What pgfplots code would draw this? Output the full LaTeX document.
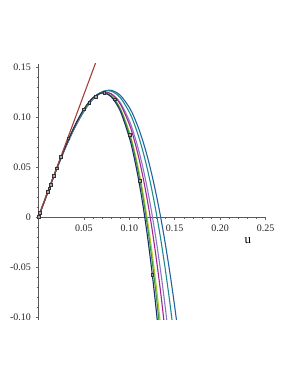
\documentclass[border=0pt]{standalone}
\usepackage{pgfplots}
\pgfplotsset{compat=1.18}
\usepackage{fontspec}
\setmainfont{Liberation Serif}
\definecolor{cred}{HTML}{A3403A}
\definecolor{cnavy}{HTML}{1B2D6E}
\definecolor{cgreen}{HTML}{3A9A3A}
\definecolor{cyellow}{HTML}{B5C92A}
\definecolor{cmag}{HTML}{A3268E}
\definecolor{clav}{HTML}{8A78C8}
\definecolor{cteal}{HTML}{1F8A8A}
\definecolor{cblue}{HTML}{2262A0}
\begin{document}
\begin{tikzpicture}[x=1pt,y=1pt]
\useasboundingbox (0,0) rectangle (298,385);
\begin{axis}[
  at={(38.5pt,65pt)}, anchor=south west,
  scale only axis, width=227pt, height=256pt,
  xmin=0, xmax=0.25, ymin=-0.103, ymax=0.153,
  axis lines=middle, axis line style={-, black!65, line width=0.6pt},
  xtick={0.05,0.1,0.15,0.2,0.25},
  xticklabels={0.05,0.10,0.15,0.20,0.25},
  ytick={-0.1,-0.05,0,0.05,0.1,0.15},
  yticklabels={-0.10,-0.05,0,0.05,0.10,0.15},
  hide obscured y ticks=false,
  minor x tick num=4, minor y tick num=4,
  tick align=outside,
  major tick length=3pt, minor tick length=2pt,
  tick style={black!60, line width=0.5pt},
  tick label style={font=\fontsize{10}{12}\selectfont, text=black!85},
  xticklabel style={yshift=-1pt},
  yticklabel style={xshift=-1pt},
  clip=true,
  every axis plot/.append style={line width=1.1pt, smooth},
]
% curves
\addplot[cblue, no marks] coordinates {(0,0) (0.01,0.02436) (0.02,0.04792) (0.03,0.06984) (0.04,0.08933) (0.05,0.10557) (0.06,0.11775) (0.07,0.12504) (0.08,0.12666) (0.09,0.12176) (0.10,0.10956) (0.105,0.10046) (0.11,0.08923) (0.115,0.07576) (0.12,0.05998) (0.125,0.04174) (0.13,0.02096) (0.135,-0.00248) (0.14,-0.02864) (0.145,-0.05762) (0.15,-0.0896) (0.155,-0.1246)};
\addplot[cteal, no marks] coordinates {(0,0) (0.01,0.02439) (0.02,0.04805) (0.03,0.07015) (0.04,0.08982) (0.05,0.10616) (0.06,0.11825) (0.07,0.12514) (0.08,0.12585) (0.09,0.11945) (0.10,0.1049) (0.105,0.0943) (0.11,0.0813) (0.115,0.0657) (0.12,0.0475) (0.125,0.0264) (0.13,0.0025) (0.135,-0.0244) (0.14,-0.0546) (0.145,-0.0880) (0.15,-0.1249)};
\addplot[clav, no marks] coordinates {(0,0) (0.01,0.02441) (0.02,0.04814) (0.03,0.07035) (0.04,0.09008) (0.05,0.10633) (0.06,0.11801) (0.07,0.12403) (0.08,0.12323) (0.09,0.1144) (0.10,0.09636) (0.105,0.0835) (0.11,0.0679) (0.115,0.0493) (0.12,0.0277) (0.125,0.0027) (0.13,-0.0256) (0.135,-0.0575) (0.14,-0.0933) (0.145,-0.1327)};
\addplot[cmag, no marks] coordinates {(0,0) (0.01,0.02442) (0.02,0.04825) (0.03,0.07064) (0.04,0.0906) (0.05,0.10704) (0.06,0.11879) (0.07,0.1246) (0.08,0.1231) (0.09,0.1130) (0.10,0.0928) (0.105,0.0785) (0.11,0.0611) (0.115,0.0403) (0.12,0.0162) (0.125,-0.0116) (0.13,-0.0433) (0.135,-0.0790) (0.14,-0.1190)};
\addplot[cyellow, no marks] coordinates {(0,0) (0.01,0.02444) (0.02,0.04833) (0.03,0.07083) (0.04,0.09091) (0.05,0.10736) (0.06,0.11887) (0.07,0.12398) (0.08,0.12117) (0.09,0.10882) (0.10,0.08521) (0.105,0.06863) (0.11,0.04856) (0.115,0.02474) (0.12,-0.00297) (0.125,-0.0350) (0.13,-0.0714) (0.135,-0.1125)};
\addplot[cgreen, no marks] coordinates {(0,0) (0.01,0.02444) (0.02,0.04837) (0.03,0.07096) (0.04,0.09115) (0.05,0.1077) (0.06,0.1192) (0.07,0.1243) (0.08,0.1211) (0.09,0.1081) (0.10,0.0833) (0.105,0.0660) (0.11,0.0449) (0.115,0.0199) (0.12,-0.0092) (0.125,-0.0429) (0.13,-0.0812) (0.135,-0.1245)};
\addplot[cnavy, no marks] coordinates {(0,0) (0.01,0.02445) (0.02,0.04841) (0.03,0.07105) (0.04,0.0913) (0.05,0.10787) (0.06,0.11932) (0.07,0.12401) (0.08,0.12023) (0.09,0.10606) (0.10,0.07953) (0.105,0.0610) (0.11,0.03854) (0.115,0.0119) (0.12,-0.0192) (0.125,-0.0551) (0.13,-0.0960) (0.135,-0.1423)};
% tangent line
\addplot[cred, no marks, line width=1.1pt] coordinates {(0,0) (0.065,0.15925)};
% data points
\addplot[only marks, mark=square*, mark size=1.4pt, mark options={draw=black!80, fill=black!35, line width=0.6pt}] coordinates {
(0,0.0003) (0.0017,0.0043) (0.0101,0.0253) (0.0119,0.0287) (0.0134,0.032) (0.0171,0.041) (0.0200,0.0487) (0.0248,0.0603) (0.0328,0.0787) (0.0501,0.1077) (0.0559,0.1143) (0.0630,0.1203) (0.0725,0.1243) (0.0843,0.1177) (0.1008,0.082) (0.1118,0.036) (0.1253,-0.058)};
\node[font=\fontsize{13}{15}\selectfont] at (axis cs:0.2307,-0.024) {u};
\end{axis}
\end{tikzpicture}
\end{document}
